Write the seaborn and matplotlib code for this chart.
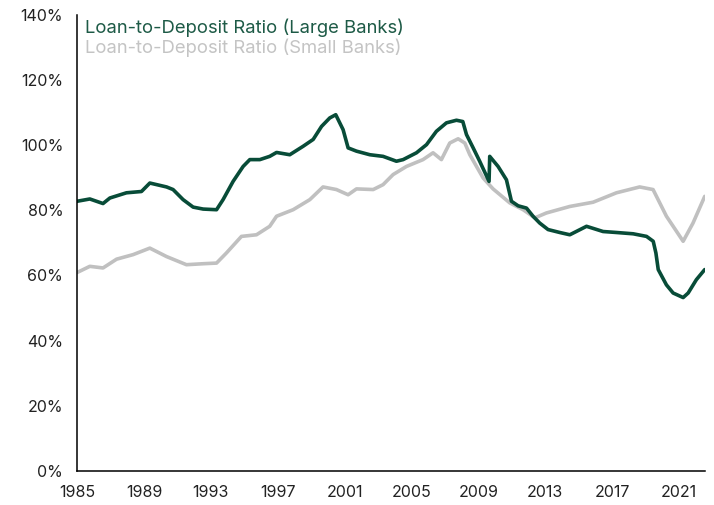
import pandas as pd
import numpy as np
import matplotlib.pyplot as plt
import seaborn as sns

# values (year, ratio in %)
large_years = [1985.0, 1985.76, 1986.55, 1986.96, 1987.95, 1988.85, 1989.35, 1990.35,
               1990.74, 1991.34, 1991.94, 1992.54, 1993.34, 1993.73, 1994.33, 1994.93,
               1995.33, 1995.93, 1996.52, 1996.93, 1997.72, 1998.52, 1999.12, 1999.62,
               2000.11, 2000.47, 2000.91, 2001.21, 2001.71, 2002.51, 2003.30, 2004.10,
               2004.50, 2005.30, 2005.90, 2006.49, 2007.09, 2007.69, 2008.07, 2008.29,
               2008.69, 2009.08, 2009.64, 2009.68, 2010.18, 2010.68, 2010.98, 2011.38,
               2011.88, 2012.27, 2012.67, 2013.17, 2013.87, 2014.47, 2015.47, 2016.46,
               2017.26, 2018.26, 2019.06, 2019.46, 2019.62, 2019.76, 2020.25, 2020.65,
               2021.25, 2021.55, 2022.04, 2022.54]
large_ratio = [82.8, 83.5, 82.1, 83.8, 85.4, 85.8, 88.4, 87.2,
               86.4, 83.3, 81.0, 80.4, 80.2, 83.3, 88.9, 93.5,
               95.6, 95.6, 96.6, 97.8, 97.1, 99.7, 101.8, 105.8,
               108.4, 109.4, 104.8, 99.2, 98.2, 97.1, 96.6, 95.1,
               95.6, 97.7, 100.2, 104.3, 106.9, 107.7, 107.3, 103.3,
               99.2, 95.1, 88.9, 96.6, 93.5, 89.4, 82.8, 81.4,
               80.7, 78.2, 76.1, 74.1, 73.2, 72.5, 75.1, 73.5,
               73.2, 72.8, 72.0, 70.5, 66.9, 61.8, 57.1, 54.6,
               53.2, 54.6, 58.7, 61.8]

small_years = [1985.0, 1985.76, 1986.55, 1987.36, 1988.35, 1989.35, 1990.35, 1991.54,
               1992.54, 1993.34, 1993.93, 1994.83, 1995.73, 1996.52, 1996.93, 1997.92,
               1998.92, 1999.71, 2000.51, 2001.21, 2001.71, 2002.71, 2003.30, 2003.90,
               2004.70, 2005.69, 2006.29, 2006.79, 2007.29, 2007.79, 2008.19, 2008.49,
               2009.28, 2009.88, 2010.88, 2011.68, 2012.38, 2013.07, 2014.47, 2015.86,
               2017.26, 2018.65, 2019.45, 2020.25, 2021.25, 2021.84, 2022.54]
small_ratio = [60.9, 62.8, 62.3, 65.0, 66.4, 68.4, 65.8, 63.3,
               63.6, 63.8, 66.9, 72.0, 72.5, 75.1, 78.2, 80.2,
               83.3, 87.2, 86.4, 84.8, 86.6, 86.4, 87.9, 91.0,
               93.5, 95.6, 97.7, 95.6, 100.7, 102.0, 100.7, 97.1,
               90.0, 86.6, 82.3, 80.2, 77.7, 79.2, 81.2, 82.5,
               85.4, 87.2, 86.4, 78.2, 70.5, 76.1, 84.3]

series_names = ["Loan-to-Deposit Ratio (Large Banks)", "Loan-to-Deposit Ratio (Small Banks)"]
series_colors = ["#084c38", "#c0c0c0"]
year_ticks = [1985, 1989, 1993, 1997, 2001, 2005, 2009, 2013, 2017, 2021]
pct_ticks = [0, 20, 40, 60, 80, 100, 120, 140]

df = pd.concat([
    pd.DataFrame({"year": large_years, "ratio": large_ratio, "series": series_names[0]}),
    pd.DataFrame({"year": small_years, "ratio": small_ratio, "series": series_names[1]}),
])

sns.set_style("white")
plt.rcParams["font.family"] = ["Inter", "DejaVu Sans"]

fig = plt.figure(figsize=(7.14, 5.05), dpi=100)
ax = fig.add_axes([0.108, 0.068, 0.879, 0.902])

# draw small banks first so large banks sits on top
sns.lineplot(data=df, x="year", y="ratio", hue="series",
             hue_order=series_names[::-1], palette=series_colors[::-1],
             linewidth=2.6, ax=ax, legend=False, sort=True, estimator=None)

ax.set_xlim(1985, max(large_years))
ax.set_ylim(0, 140)
ax.set_xticks(year_ticks)
ax.set_xticklabels([str(y) for y in year_ticks])
ax.set_yticks(pct_ticks)
ax.set_yticklabels([f"{p}%" for p in pct_ticks])
ax.set_xlabel("")
ax.set_ylabel("")

for side in ["top", "right"]:
    ax.spines[side].set_visible(False)
for side in ["left", "bottom"]:
    ax.spines[side].set_color("black")
    ax.spines[side].set_linewidth(1.1)
ax.tick_params(axis="both", direction="out", length=4, width=1, color="#777777",
               labelsize=11.5, labelcolor="#222222")
ax.tick_params(axis="x", pad=6)
ax.tick_params(axis="y", pad=6)

# coloured text legend
ax.text(0.012, 0.992, series_names[0], transform=ax.transAxes, color="#1d5a46",
        fontsize=13.3, va="top", ha="left")
ax.text(0.012, 0.948, series_names[1], transform=ax.transAxes, color="#c4c4c4",
        fontsize=13.3, va="top", ha="left")

fig.savefig("out.png", dpi=100)
